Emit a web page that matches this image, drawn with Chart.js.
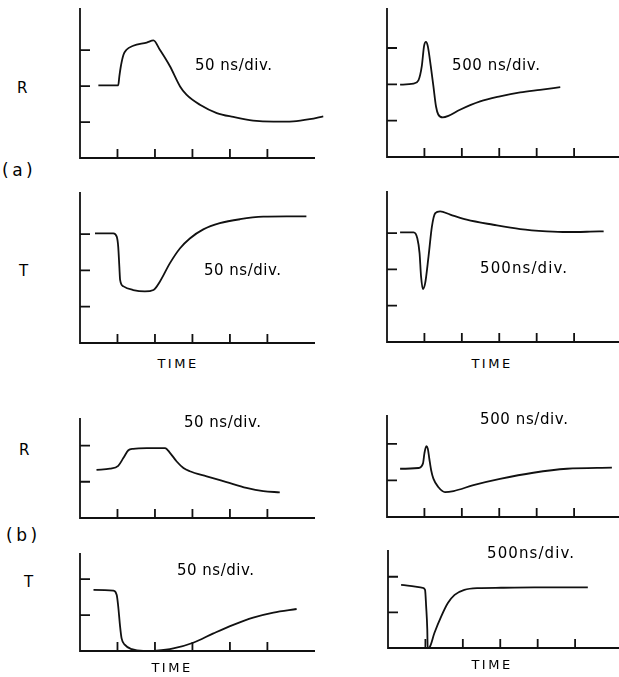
<!DOCTYPE html>
<html>
<head>
<meta charset="utf-8">
<script src="https://cdn.jsdelivr.net/npm/chart.js@4.4.0/dist/chart.umd.min.js"></script>
<style>
  body { margin: 0; background: #fff; width: 619px; height: 677px; position: relative; overflow: hidden;
         font-family: "DejaVu Sans", sans-serif; color: #000; }
  canvas { position: absolute; }
  .lbl { position: absolute; line-height: 1; white-space: nowrap; }
</style>
</head>
<body>
<script>
// time in divisions, signal in divisions
const xTicks = [1, 2, 3, 4, 5];
const yTicksA = [1, 2, 3];
const yTicksB = [1, 2];

// (a) R, 50 ns/div
const aR50Time = [0.49, 1.02, 1.05, 1.09, 1.16, 1.24, 1.42, 1.78, 1.96, 2.13, 2.4, 2.67, 2.84, 3.2, 3.65, 4.09, 4.62, 5.16, 5.69, 6.13, 6.49];
const aR50Val  = [2.02, 2.02, 2.27, 2.55, 2.87, 3.01, 3.12, 3.21, 3.27, 3.01, 2.55, 1.99, 1.76, 1.48, 1.25, 1.14, 1.04, 1.01, 1.02, 1.08, 1.16];
// (a) R, 500 ns/div
const aR500Time = [0.35, 0.71, 0.84, 0.93, 0.99, 1.04, 1.09, 1.17, 1.24, 1.31, 1.37, 1.49, 1.64, 1.95, 2.49, 3.02, 3.56, 4.09, 4.63];
const aR500Val  = [1.99, 2.02, 2.11, 2.5, 3.05, 3.17, 3.05, 2.5, 1.95, 1.39, 1.17, 1.09, 1.13, 1.3, 1.53, 1.67, 1.78, 1.85, 1.92];
// (a) T, 50 ns/div
const aT50Time = [0.4, 0.89, 0.98, 1.02, 1.05, 1.07, 1.16, 1.42, 1.73, 1.96, 2.13, 2.4, 2.67, 2.93, 3.29, 3.73, 4.27, 4.89, 5.51, 6.04];
const aT50Val  = [3.02, 3.02, 2.93, 2.65, 2.1, 1.74, 1.56, 1.46, 1.42, 1.46, 1.69, 2.2, 2.61, 2.88, 3.13, 3.3, 3.41, 3.48, 3.49, 3.49];
// (a) T, 500 ns/div
const aT500Time = [0.35, 0.71, 0.81, 0.87, 0.91, 0.96, 1.02, 1.11, 1.2, 1.29, 1.42, 1.69, 2.13, 2.84, 3.56, 4.27, 4.81, 5.43, 5.79];
const aT500Val  = [3.02, 3.02, 2.86, 2.45, 1.81, 1.46, 1.62, 2.36, 3.18, 3.55, 3.6, 3.51, 3.37, 3.23, 3.11, 3.05, 3.03, 3.04, 3.05];
// (b) R, 50 ns/div
const bR50Time = [0.44, 0.8, 1.02, 1.16, 1.29, 1.42, 1.78, 2.27, 2.4, 2.58, 2.76, 2.93, 3.38, 3.91, 4.44, 4.89, 5.33];
const bR50Val  = [1.33, 1.36, 1.44, 1.66, 1.87, 1.91, 1.93, 1.93, 1.8, 1.56, 1.38, 1.29, 1.15, 0.99, 0.83, 0.74, 0.71];
// (b) R, 500 ns/div
const bR500Time = [0.35, 0.84, 0.96, 1.0, 1.05, 1.09, 1.13, 1.18, 1.24, 1.37, 1.55, 1.78, 2.31, 3.02, 3.91, 4.81, 6.01];
const bR500Val  = [1.32, 1.34, 1.46, 1.74, 1.94, 1.87, 1.6, 1.28, 1.05, 0.82, 0.68, 0.71, 0.87, 1.04, 1.21, 1.32, 1.35];
// (b) T, 50 ns/div
const bT50Time = [0.36, 0.89, 0.98, 1.02, 1.07, 1.11, 1.2, 1.38, 1.69, 2.04, 2.49, 3.02, 3.56, 4.09, 4.62, 5.16, 5.78];
const bT50Val  = [1.7, 1.68, 1.56, 1.24, 0.68, 0.35, 0.17, 0.05, 0.0, 0.01, 0.07, 0.23, 0.49, 0.73, 0.93, 1.07, 1.17];
// (b) T, 500 ns/div
const bT500Time = [0.35, 0.93, 0.99, 1.02, 1.05, 1.06, 1.11, 1.24, 1.42, 1.6, 1.78, 2.04, 2.4, 3.02, 3.91, 5.34];
const bT500Val  = [1.77, 1.69, 1.63, 1.16, 0.51, 0.0, 0.02, 0.42, 0.88, 1.26, 1.49, 1.63, 1.68, 1.69, 1.7, 1.7];

// inward scope ticks + L-shaped axes
const scopeAxes = {
    id: "scopeAxes",
    afterDatasetsDraw(chart, args, opts) {
        const { ctx } = chart;
        const x = chart.scales.x, y = chart.scales.y;
        const x0 = x.getPixelForValue(0);
        const y0 = y.getPixelForValue(0);
        ctx.save();
        ctx.strokeStyle = "#111";
        ctx.lineWidth = 1.8;
        ctx.beginPath();
        ctx.moveTo(x0, y.getPixelForValue(y.max));
        ctx.lineTo(x0, y0);
        ctx.lineTo(x.getPixelForValue(x.max), y0);
        opts.xTicks.forEach((v) => {
            const px = x.getPixelForValue(v);
            ctx.moveTo(px, y0);
            ctx.lineTo(px, y0 - 9);
        });
        opts.yTicks.forEach((v) => {
            const py = y.getPixelForValue(v);
            ctx.moveTo(x0, py);
            ctx.lineTo(x0 + 10, py);
        });
        ctx.stroke();
        ctx.restore();
    },
};

const panels = [
    { left: 80,  base: 158, xu: 37.5, yu: 36,   xEnd: 6.27, yTop: 4.17, xs: aR50Time,  ys: aR50Val,  yTicks: yTicksA },
    { left: 387, base: 157, xu: 37.4, yu: 36.3, xEnd: 6.2,  yTop: 4.1,  xs: aR500Time, ys: aR500Val, yTicks: yTicksA },
    { left: 80,  base: 343, xu: 37.5, yu: 36.4, xEnd: 6.27, yTop: 4.16, xs: aT50Time,  ys: aT50Val,  yTicks: yTicksA },
    { left: 387, base: 342, xu: 37.4, yu: 36.3, xEnd: 6.2,  yTop: 4.16, xs: aT500Time, ys: aT500Val, yTicks: yTicksA },
    { left: 80,  base: 518, xu: 37.5, yu: 36.2, xEnd: 6.27, yTop: 2.76, xs: bR50Time,  ys: bR50Val,  yTicks: yTicksB },
    { left: 387, base: 517, xu: 37.4, yu: 36.5, xEnd: 6.2,  yTop: 2.79, xs: bR500Time, ys: bR500Val, yTicks: yTicksB },
    { left: 80,  base: 651, xu: 37.5, yu: 35.8, xEnd: 6.27, yTop: 2.73, xs: bT50Time,  ys: bT50Val,  yTicks: yTicksB },
    { left: 388, base: 648, xu: 37.4, yu: 35.8, xEnd: 6.2,  yTop: 2.75, xs: bT500Time, ys: bT500Val, yTicks: yTicksB },
];

const pad = 12;

panels.forEach((p) => {
    const cv = document.createElement("canvas");
    const w = Math.round(p.xEnd * p.xu) + 2 * pad;
    const h = Math.round(p.yTop * p.yu) + 2 * pad;
    cv.width = w;
    cv.height = h;
    cv.style.left = (p.left - pad) + "px";
    cv.style.top = (p.base - Math.round(p.yTop * p.yu) - pad) + "px";
    document.body.appendChild(cv);

    new Chart(cv.getContext("2d"), {
        type: "line",
        data: {
            datasets: [{
                data: p.xs.map((v, i) => ({ x: v, y: p.ys[i] })),
                borderColor: "#111",
                borderWidth: 1.8,
                pointRadius: 0,
                fill: false,
                cubicInterpolationMode: "monotone",
                clip: false,
            }],
        },
        options: {
            responsive: false,
            animation: false,
            layout: { padding: pad },
            plugins: {
                legend: { display: false },
                tooltip: { enabled: false },
                scopeAxes: { xTicks: xTicks, yTicks: p.yTicks },
            },
            scales: {
                x: { type: "linear", display: false, min: 0, max: p.xEnd },
                y: { type: "linear", display: false, min: 0, max: p.yTop },
            },
        },
        plugins: [scopeAxes],
    });
});

function label(text, x, y, size, spacing, center) {
    const d = document.createElement("div");
    d.className = "lbl";
    d.textContent = text;
    d.style.fontSize = size + "px";
    d.style.letterSpacing = spacing + "px";
    d.style.left = x + "px";
    d.style.top = y + "px";
    d.style.transform = center ? "translate(-50%,-50%)" : "translateY(-50%)";
    document.body.appendChild(d);
}

label("R", 17, 88, 15, 0);
label("(a)", 2, 170, 17, 3.5);
label("50 ns/div.", 195, 65, 15, 0.5);
label("500 ns/div.", 452, 65, 15, 0.6);
label("T", 19, 271, 15, 0);
label("50 ns/div.", 204, 270, 15, 0.5);
label("500ns/div.", 480, 268, 15, 1.1);
label("TIME", 178, 363, 13, 2.5, true);
label("TIME", 492, 363, 13, 2.5, true);
label("R", 19, 450, 15, 0);
label("50 ns/div.", 184, 422, 15, 0.5);
label("500 ns/div.", 480, 419, 15, 0.6);
label("(b)", 6, 535, 17, 3.5);
label("T", 24, 582, 15, 0);
label("50 ns/div.", 177, 570, 15, 0.5);
label("500ns/div.", 487, 553, 15, 1.1);
label("TIME", 172, 667, 13, 2.5, true);
label("TIME", 492, 664, 13, 2.5, true);
</script>
</body>
</html>
